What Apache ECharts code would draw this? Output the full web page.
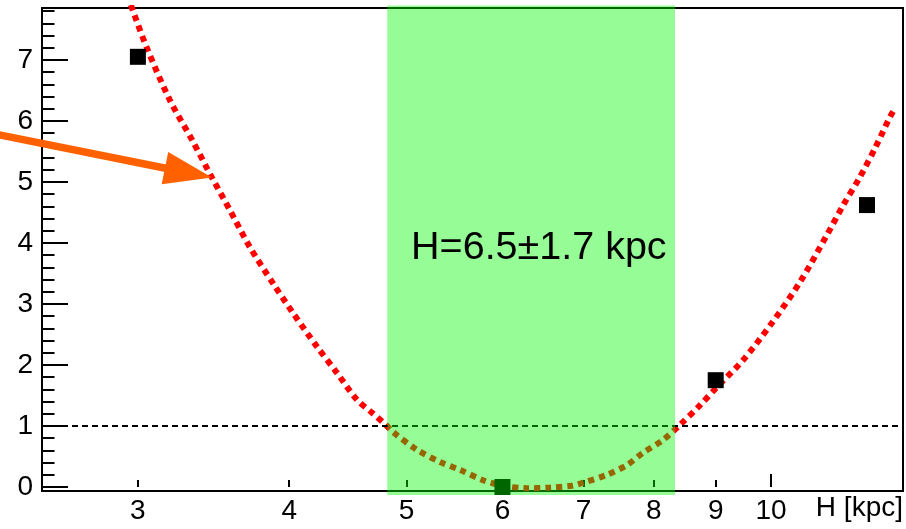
<!DOCTYPE html>
<html><head><meta charset="utf-8">
<script src="https://cdn.jsdelivr.net/npm/echarts@6/dist/echarts.min.js"></script>
<style>html,body{margin:0;padding:0;background:#fff}#c{width:906px;height:529px}</style>
</head><body><div id="c"></div>
<script>
// fit curve (chi2 vs H)
const curveH   = [2.96, 3.051, 3.188, 3.325, 3.454, 3.573, 3.712, 3.878, 4.029, 4.217, 4.380, 4.550, 4.680, 4.799, 4.873, 5.100, 5.329, 5.536, 5.783, 6.007, 6.287, 6.568, 6.849, 6.994, 7.320, 7.603, 7.838, 8.143, 8.410, 8.736, 9.024, 9.482, 10.0, 10.566, 11.12, 11.47, 11.84, 12.19, 12.54, 12.66];
const curveChi = [7.90, 7.20, 6.34, 5.69, 5.07, 4.54, 3.93, 3.34, 2.85, 2.30, 1.87, 1.43, 1.22, 1.03, 0.90, 0.61, 0.41, 0.28, 0.11, 0.02, -0.02, -0.01, 0.02, 0.07, 0.20, 0.36, 0.56, 0.77, 1.02, 1.34, 1.64, 2.08, 2.67, 3.36, 4.13, 4.62, 5.08, 5.56, 6.07, 6.21];
// measured points
const pointH   = [3, 6, 9, 12];
const pointChi = [7.05, 0.0, 1.75, 4.62];
// axes
const xTickLabels = [3, 4, 5, 6, 7, 8, 9, 10];
const xShortTicks = [3, 4, 5, 6, 7, 8, 9];
const xLongTicks  = [10];
const yTickLabels = [0, 1, 2, 3, 4, 5, 6, 7];
const yMinorTicks = [0.2,0.4,0.6,0.8,1.2,1.4,1.6,1.8,2.2,2.4,2.6,2.8,3.2,3.4,3.6,3.8,4.2,4.4,4.6,4.8,5.2,5.4,5.6,5.8,6.2,6.4,6.6,6.8,7.2,7.4,7.6,7.8];
const xRange = [2.5, 12.85];
const yRange = [-0.066, 7.85];
// annotations
const bandH = [4.82, 8.33];
const bandChi = [-0.13, 7.89];
const refLevel = 1;
const bandLabel = 'H=6.5±1.7 kpc';
const bandLabelPos = [6.43, 3.92];
const arrowTail = [2.307, 5.77];
const arrowTip = [3.454, 5.07];

const FONT = 'Liberation Sans';
const chart = echarts.init(document.getElementById('c'));
const curveData = curveH.map((h, i) => [h, curveChi[i]]);
const pointData = pointH.map((h, i) => [h, pointChi[i]]);

function xAxisBase(extra) {
  return Object.assign({
    type: 'log', logBase: 10, min: xRange[0], max: xRange[1], position: 'bottom',
    axisLine: {show: false}, splitLine: {show: false}, minorTick: {show: false}, minorSplitLine: {show: false}
  }, extra);
}
function yAxisBase(extra) {
  return Object.assign({
    type: 'value', min: yRange[0], max: yRange[1], position: 'left',
    axisLine: {show: false}, splitLine: {show: false}
  }, extra);
}

chart.setOption({
  animation: false,
  backgroundColor: '#fff',
  grid: {left: 42, right: 3, top: 8, bottom: 38, show: true, borderColor: '#000', borderWidth: 2, backgroundColor: 'transparent'},
  xAxis: [
    xAxisBase({
      axisTick: {show: true, inside: true, length: 7, lineStyle: {color: '#000', width: 2}, customValues: xShortTicks},
      axisLabel: {show: true, customValues: xTickLabels, formatter: v => String(Math.round(v)), color: '#000', fontSize: 28, fontFamily: FONT, margin: 6},
      name: 'H [kpc]', nameLocation: 'end', nameGap: 0,
      nameTextStyle: {color: '#000', fontSize: 28, fontFamily: FONT, align: 'right', verticalAlign: 'top', padding: [7, 0, 0, 0]}
    }),
    xAxisBase({
      axisTick: {show: true, inside: true, length: 13, lineStyle: {color: '#000', width: 2}, customValues: xLongTicks},
      axisLabel: {show: false}
    })
  ],
  yAxis: [
    yAxisBase({
      axisTick: {show: true, inside: true, length: 26, lineStyle: {color: '#000', width: 2}, customValues: yTickLabels},
      axisLabel: {show: true, customValues: yTickLabels, color: '#000', fontSize: 28, fontFamily: FONT, margin: 9}
    }),
    yAxisBase({
      axisTick: {show: true, inside: true, length: 12.5, lineStyle: {color: '#000', width: 2}, customValues: yMinorTicks},
      axisLabel: {show: false}
    })
  ],
  series: [
    {
      type: 'line', data: curveData, showSymbol: false, symbol: 'none', z: 2, clip: true, smooth: 0.3,
      lineStyle: {color: '#ff0000', width: 6, type: [6, 5], cap: 'butt'},
      markLine: {
        silent: true, symbol: 'none', label: {show: false},
        lineStyle: {color: '#000', width: 2.2, type: [6, 4]},
        data: [{yAxis: refLevel}]
      }
    },
    {
      type: 'scatter', data: pointData, symbol: 'rect', symbolSize: 16, z: 3,
      itemStyle: {color: '#000', opacity: 1}
    },
    {
      type: 'custom', z: 10, clip: false, silent: true,
      data: [[bandH[0], bandH[1], bandChi[0], bandChi[1]]],
      renderItem: function (params, api) {
        const p0 = api.coord([api.value(0), api.value(3)]);
        const p1 = api.coord([api.value(1), api.value(2)]);
        const c = api.coord(bandLabelPos);
        return {
          type: 'group',
          children: [
            {type: 'rect', shape: {x: p0[0], y: p0[1], width: p1[0] - p0[0], height: p1[1] - p0[1]},
             style: {fill: 'rgba(0,247,0,0.41)'}},
            {type: 'text', x: c[0], y: c[1],
             style: {text: bandLabel, fill: '#000', font: '39.5px "Liberation Sans"', align: 'center', verticalAlign: 'middle'}}
          ]
        };
      }
    }
  ]
});

const t0 = chart.convertToPixel({xAxisIndex: 0, yAxisIndex: 0}, arrowTail);
const t1 = chart.convertToPixel({xAxisIndex: 0, yAxisIndex: 0}, arrowTip);
const dx = t1[0] - t0[0], dy = t1[1] - t0[1];
const L = Math.sqrt(dx * dx + dy * dy);
const ux = dx / L, uy = dy / L, px = -uy, py = ux;
const headLen = 48, headHalf = 16.5;
const bx = t1[0] - ux * headLen, by = t1[1] - uy * headLen;
chart.setOption({
  graphic: [
    {type: 'line', z: 20, shape: {x1: t0[0] - ux * 10, y1: t0[1] - uy * 10, x2: bx + ux * 2, y2: by + uy * 2},
     style: {stroke: '#ff6000', lineWidth: 7.5}},
    {type: 'polygon', z: 20, shape: {points: [[t1[0], t1[1]], [bx + px * headHalf, by + py * headHalf], [bx - px * headHalf, by - py * headHalf]]},
     style: {fill: '#ff6000'}}
  ]
});
</script>
</body></html>
